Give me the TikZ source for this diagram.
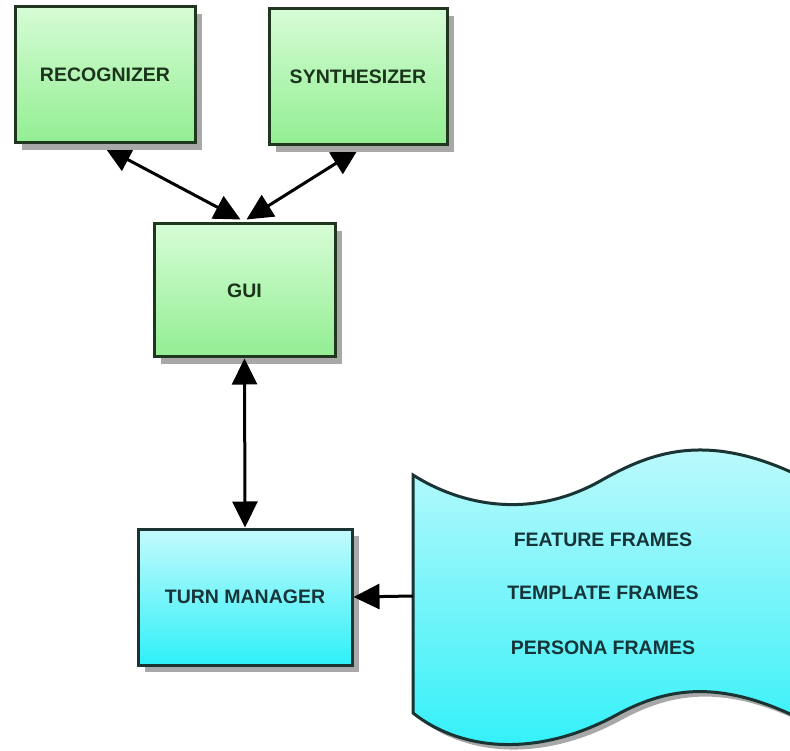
\documentclass[tikz,border=0pt]{standalone}
\usepackage{fontspec}
\setmainfont{Liberation Sans}
\usetikzlibrary{arrows.meta,shadows}
\definecolor{gtop}{HTML}{D6FCD6}
\definecolor{gbot}{HTML}{92EE92}
\definecolor{ctop}{HTML}{C4FAFC}
\definecolor{cbot}{HTML}{2EF0F8}
\definecolor{gborder}{HTML}{1F361F}
\definecolor{cborder}{HTML}{1A3434}
\definecolor{gtext}{HTML}{1C341C}
\definecolor{ctext}{HTML}{173438}
\definecolor{shadowgray}{HTML}{A8A8A8}
\pgfdeclarelayer{bg}
\pgfsetlayers{bg,main}
\tikzset{
  lbl/.style={font=\fontsize{19.5}{23}\selectfont\bfseries},
  gbox/.style={draw=gborder, line width=3pt, top color=gtop, bottom color=gbot,
    text=gtext, lbl, inner sep=0pt,
    drop shadow={shadow xshift=7pt, shadow yshift=-7pt, fill=shadowgray, opacity=1}},
  cbox/.style={draw=cborder, line width=3pt, top color=ctop, bottom color=cbot,
    text=ctext, lbl, inner sep=0pt,
    drop shadow={shadow xshift=7pt, shadow yshift=-7pt, fill=shadowgray, opacity=1}},
  link/.style={line width=3pt, draw=black,
    {Triangle[length=26pt,width=25pt]}-{Triangle[length=26pt,width=25pt]}},
  flink/.style={line width=3pt, draw=black, -{Triangle[length=26pt,width=25pt]}},
  frametext/.style={text=ctext, lbl}
}
\begin{document}
\begin{tikzpicture}[x=1pt,y=-1pt]
\useasboundingbox (0,0) rectangle (790,751);
\begin{pgfonlayer}{bg}
\fill[white] (0,0) rectangle (790,751);
\end{pgfonlayer}

% document shape (shadow, then body)
\fill[shadowgray] ([shift={(5,5)}]413,475) .. controls ([shift={(5,5)}]462,506) and ([shift={(5,5)}]532,520) .. ([shift={(5,5)}]602,480)
   .. controls ([shift={(5,5)}]662,446) and ([shift={(5,5)}]722,430) .. ([shift={(5,5)}]830,492)
   -- ([shift={(5,5)}]830,735)
   .. controls ([shift={(5,5)}]730,676) and ([shift={(5,5)}]672,686) .. ([shift={(5,5)}]620,713)
   .. controls ([shift={(5,5)}]540,758) and ([shift={(5,5)}]462,752) .. ([shift={(5,5)}]413,713) -- cycle;
\path[draw=cborder, line width=3pt, top color=ctop, bottom color=cbot]
   (413,475) .. controls (462,506) and (532,520) .. (602,480)
   .. controls (662,446) and (722,430) .. (830,492)
   -- (830,735)
   .. controls (730,676) and (672,686) .. (620,713)
   .. controls (540,758) and (462,752) .. (413,713) -- cycle;
\coordinate (docleft) at (413,596);
\node[frametext] (f1) at (603,540) {FEATURE FRAMES};
\node[frametext] (f2) at (603,593) {TEMPLATE FRAMES};
\node[frametext] (f3) at (603,648) {PERSONA FRAMES};

% boxes
\node[gbox, minimum width=180pt, minimum height=136pt] (rec) at (105,75) {RECOGNIZER};
\node[gbox, minimum width=178pt, minimum height=136pt] (syn) at (358,77) {SYNTHESIZER};
\node[gbox, minimum width=181pt, minimum height=133pt] (gui) at (244.5,290.5) {GUI};
\node[cbox, minimum width=214pt, minimum height=136pt] (tm) at (245,597) {TURN MANAGER};

% connectors (under the boxes, tips reaching just into the borders)
\begin{pgfonlayer}{bg}
\draw[link] ([yshift=-3pt]rec.south) -- ([xshift=-4pt,yshift=3pt]gui.north);
\draw[link] ([yshift=-3pt]syn.south) -- ([xshift=2pt,yshift=3pt]gui.north);
\end{pgfonlayer}
\draw[link] (gui.south) -- (tm.north);
\draw[flink] (docleft) -- (tm.east);
\end{tikzpicture}
\end{document}
